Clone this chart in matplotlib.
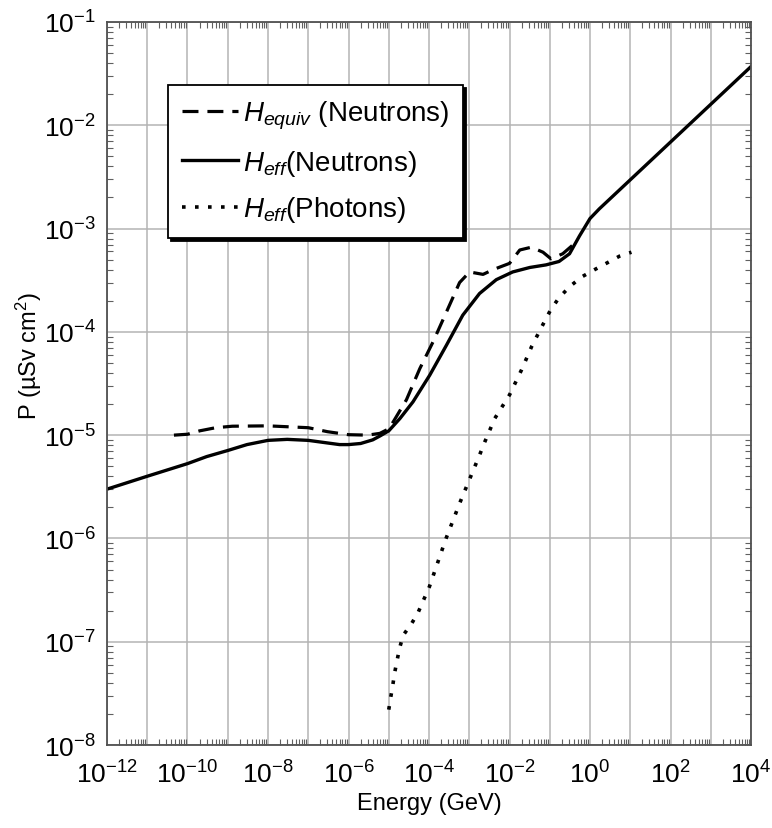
import matplotlib
matplotlib.use("Agg")
import matplotlib.pyplot as plt
import matplotlib.ticker as mticker
import numpy as np

plt.rcParams.update(
    {
        "font.family": ["Liberation Sans", "DejaVu Sans"],
        "mathtext.fontset": "custom",
        "mathtext.rm": "Liberation Sans",
        "mathtext.it": "Liberation Sans:italic",
        "mathtext.default": "regular",
    }
)

# H_eff (neutrons), solid
e_heff_n = [1e-12, 1e-11, 1e-10, 3e-10, 1e-9, 3e-9, 1e-8, 3e-8, 1e-7, 3e-7, 6e-7,
            1e-6, 2e-6, 4e-6, 6e-6, 1e-5, 1.9e-5, 4e-5, 1.04e-4, 2.7e-4, 6.9e-4,
            1.8e-3, 4.7e-3, 1.2e-2, 3.2e-2, 8.1e-2, 0.17, 0.31, 0.55, 1.0, 1.7, 1e4]
p_heff_n = [3.0e-6, 4.0e-6, 5.3e-6, 6.2e-6, 7.1e-6, 8.1e-6, 8.9e-6, 9.1e-6, 8.9e-6,
            8.4e-6, 8.1e-6, 8.1e-6, 8.3e-6, 9.0e-6, 9.8e-6, 1.1e-5, 1.45e-5, 2.1e-5,
            3.8e-5, 7.4e-5, 1.45e-4, 2.35e-4, 3.2e-4, 3.8e-4, 4.2e-4, 4.45e-4,
            4.8e-4, 5.7e-4, 8.5e-4, 1.25e-3, 1.55e-3, 3.7e-2]

# H_equiv (neutrons), dashed
e_hequiv_n = [4.6e-11, 1e-10, 2e-10, 5e-10, 1.3e-9, 1e-8, 1e-7, 3e-7, 1e-6, 3e-6,
              6e-6, 1e-5, 1.3e-5, 2.75e-5, 5.9e-5, 1.26e-4, 2.7e-4, 5.75e-4, 1.02e-3,
              2.2e-3, 3.9e-3, 1e-2, 1.8e-2, 3.5e-2, 6.8e-2, 0.107, 0.21, 0.37]
p_hequiv_n = [1.0e-5, 1.02e-5, 1.1e-5, 1.18e-5, 1.22e-5, 1.23e-5, 1.18e-5, 1.08e-5,
              1.01e-5, 1.0e-5, 1.04e-5, 1.15e-5, 1.35e-5, 2.2e-5, 4.4e-5, 8.0e-5,
              1.55e-4, 3.0e-4, 3.8e-4, 3.6e-4, 4.0e-4, 4.6e-4, 6.2e-4, 6.6e-4, 5.9e-4,
              5.1e-4, 5.7e-4, 6.9e-4]

# H_eff (photons), dotted
e_heff_g = [1e-5, 1.12e-5, 1.26e-5, 1.4e-5, 1.6e-5, 1.86e-5, 2.3e-5, 3.7e-5, 5.3e-5,
            1.02e-4, 2.6e-4, 5.8e-4, 1.8e-3, 2.4e-3, 4.3e-3, 1e-2, 2e-2, 3.6e-2,
            7.1e-2, 0.105, 0.17, 0.32, 0.62, 1.3, 5.4, 10.7]
p_heff_g = [2.2e-8, 2.9e-8, 3.8e-8, 5.0e-8, 6.5e-8, 8.7e-8, 1.16e-7, 1.5e-7, 1.9e-7,
            3.4e-7, 9.8e-7, 2.2e-6, 6.4e-6, 8.5e-6, 1.45e-5, 2.45e-5, 4.3e-5, 7.3e-5,
            1.22e-4, 1.63e-4, 2.14e-4, 2.76e-4, 3.4e-4, 4.0e-4, 5.4e-4, 5.9e-4]

fig = plt.figure(figsize=(7.72, 8.29), dpi=100)
ax = fig.add_axes([0.1386, 0.1001, 0.8342, 0.8722])

ax.plot(e_hequiv_n, p_hequiv_n, color="black", lw=2.3, ls=(0, (5, 2.8)),
        label=r"$\mathit{H}_{\mathit{equiv}}$ (Neutrons)")
ax.plot(e_heff_n, p_heff_n, color="black", lw=2.4, ls="-",
        label=r"$\mathit{H}_{\mathit{eff}}$(Neutrons)")
ax.plot(e_heff_g, p_heff_g, color="black", lw=2.6, ls=(0, (1, 2.6)),
        label=r"$\mathit{H}_{\mathit{eff}}$(Photons)")

ax.set_xscale("log")
ax.set_yscale("log")
ax.set_xlim(1e-12, 1e4)
ax.set_ylim(1e-8, 1e-1)

ax.xaxis.set_major_locator(mticker.LogLocator(base=10, numticks=40))
ax.xaxis.set_minor_locator(mticker.LogLocator(base=10, subs=np.arange(2, 10), numticks=40))
ax.yaxis.set_major_locator(mticker.LogLocator(base=10, numticks=40))
ax.yaxis.set_minor_locator(mticker.LogLocator(base=10, subs=np.arange(2, 10), numticks=40))


def even_decades(v, pos):
    k = int(round(np.log10(v)))
    if k % 2:
        return ""
    return r"$10^{%d}$" % k


ax.xaxis.set_major_formatter(mticker.FuncFormatter(even_decades))
ax.yaxis.set_major_formatter(mticker.FuncFormatter(lambda v, p: r"$10^{%d}$" % int(round(np.log10(v)))))
ax.xaxis.set_minor_formatter(mticker.NullFormatter())
ax.yaxis.set_minor_formatter(mticker.NullFormatter())

ax.tick_params(which="both", direction="in", top=True, right=True, labelsize=19,
               color="#606060")
ax.tick_params(which="major", length=0)
ax.tick_params(axis="x", which="major", pad=11)
ax.tick_params(axis="y", which="major", pad=8)
ax.tick_params(which="minor", length=4, width=0.8)

ax.grid(True, which="major", color="#b4b4b4", lw=1.1)
ax.set_axisbelow(True)
for s in ax.spines.values():
    s.set_color("#505050")
    s.set_linewidth(1.3)

ax.set_xlabel("Energy (GeV)", fontsize=17, labelpad=3)
ax.set_ylabel("P (µSv cm$^{2}$)", fontsize=17)
ax.yaxis.set_label_coords(-0.098, 0.54)

leg = ax.legend(loc="upper left", bbox_to_anchor=(0.095, 0.913), borderaxespad=0,
                fontsize=20, frameon=True, fancybox=False, handlelength=2.0,
                handletextpad=0.2, borderpad=0.5, labelspacing=0.6,
                shadow={"facecolor": "black", "edgecolor": "black", "alpha": 1.0})
leg.get_frame().set_edgecolor("black")
leg.get_frame().set_linewidth(1.3)
leg.get_frame().set_alpha(1.0)

fig.savefig("out.png", dpi=100)
